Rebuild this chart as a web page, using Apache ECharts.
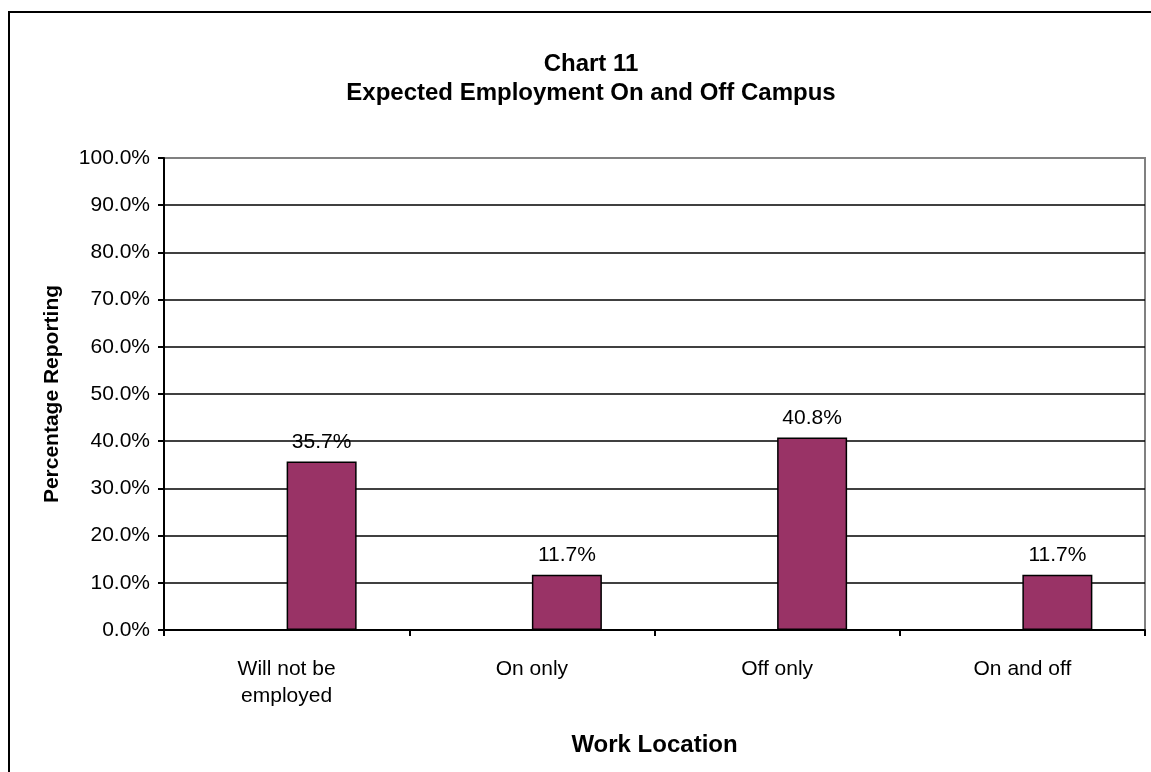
<!DOCTYPE html>
<html>
<head>
<meta charset="utf-8">
<title>Chart 11</title>
<script src="https://cdn.jsdelivr.net/npm/echarts@6/dist/echarts.min.js"></script>
<style>
  html, body { margin:0; padding:0; background:#fff; }
  #chart { width:1151px; height:772px; }
</style>
</head>
<body>
<div id="chart"></div>
<script>
// ===== Data
const categories = ['Will not be\nemployed', 'On only', 'Off only', 'On and off'];
const emptySeries = [null, null, null, null];   // Excel's blank first series
const percentValues = [35.7, 11.7, 40.8, 11.7];
const titleLines = ['Chart 11', 'Expected Employment On and Off Campus'];
const yName = 'Percentage Reporting';
const xName = 'Work Location';

const FONT = '"Liberation Sans", Arial, sans-serif';
const chart = echarts.init(document.getElementById('chart'));

chart.setOption({
  backgroundColor: '#fff',
  animation: false,
  textStyle: { fontFamily: FONT, color: '#000' },
  title: {
    text: titleLines.join('\n'),
    left: 586, top: 45, textAlign: 'center',
    textStyle: { fontFamily: FONT, fontSize: 24, fontWeight: 'bold', color: '#000', lineHeight: 29 }
  },
  graphic: [{
    type: 'rect', z: -1, silent: true,
    shape: { x: 9, y: 12, width: 1200, height: 820 },
    style: { fill: 'none', stroke: '#000', lineWidth: 2 }
  }],
  grid: {
    left: 164, right: 6, top: 158, bottom: 142,
    show: true, borderColor: '#808080', borderWidth: 2, backgroundColor: 'transparent'
  },
  xAxis: {
    type: 'category', data: categories, boundaryGap: true,
    name: xName, nameLocation: 'middle', nameGap: 103,
    nameTextStyle: { fontFamily: FONT, fontSize: 24, fontWeight: 'bold', color: '#000' },
    axisLine: { lineStyle: { color: '#000', width: 2 } },
    axisTick: { show: true, interval: 0, length: 6, lineStyle: { color: '#000', width: 2 } },
    axisLabel: { interval: 0, margin: 26, fontSize: 21, lineHeight: 27, color: '#000', fontFamily: FONT }
  },
  yAxis: {
    type: 'value', min: 0, max: 100, interval: 10,
    name: yName, nameLocation: 'middle', nameGap: 101, nameRotate: 90,
    nameTextStyle: { fontFamily: FONT, fontSize: 21, fontWeight: 'bold', color: '#000' },
    axisLine: { show: true, lineStyle: { color: '#000', width: 2 } },
    axisTick: { show: true, length: 6, lineStyle: { color: '#000', width: 2 } },
    axisLabel: { margin: 14, fontSize: 21, color: '#000', fontFamily: FONT,
      formatter: v => v.toFixed(1) + '%' },
    splitLine: { show: true, showMaxLine: false, lineStyle: { color: '#000', width: 1.5 } }
  },
  series: [
    { type: 'bar', data: emptySeries, barWidth: 70, barGap: '0%' },
    {
      type: 'bar', data: percentValues, barWidth: 70, barGap: '0%',
      itemStyle: { color: '#993366', borderColor: '#000', borderWidth: 1.5 },
      label: { show: true, position: 'top', distance: 9, fontSize: 21, color: '#000', fontFamily: FONT,
        formatter: p => p.value.toFixed(1) + '%' }
    }
  ]
});
</script>
</body>
</html>
